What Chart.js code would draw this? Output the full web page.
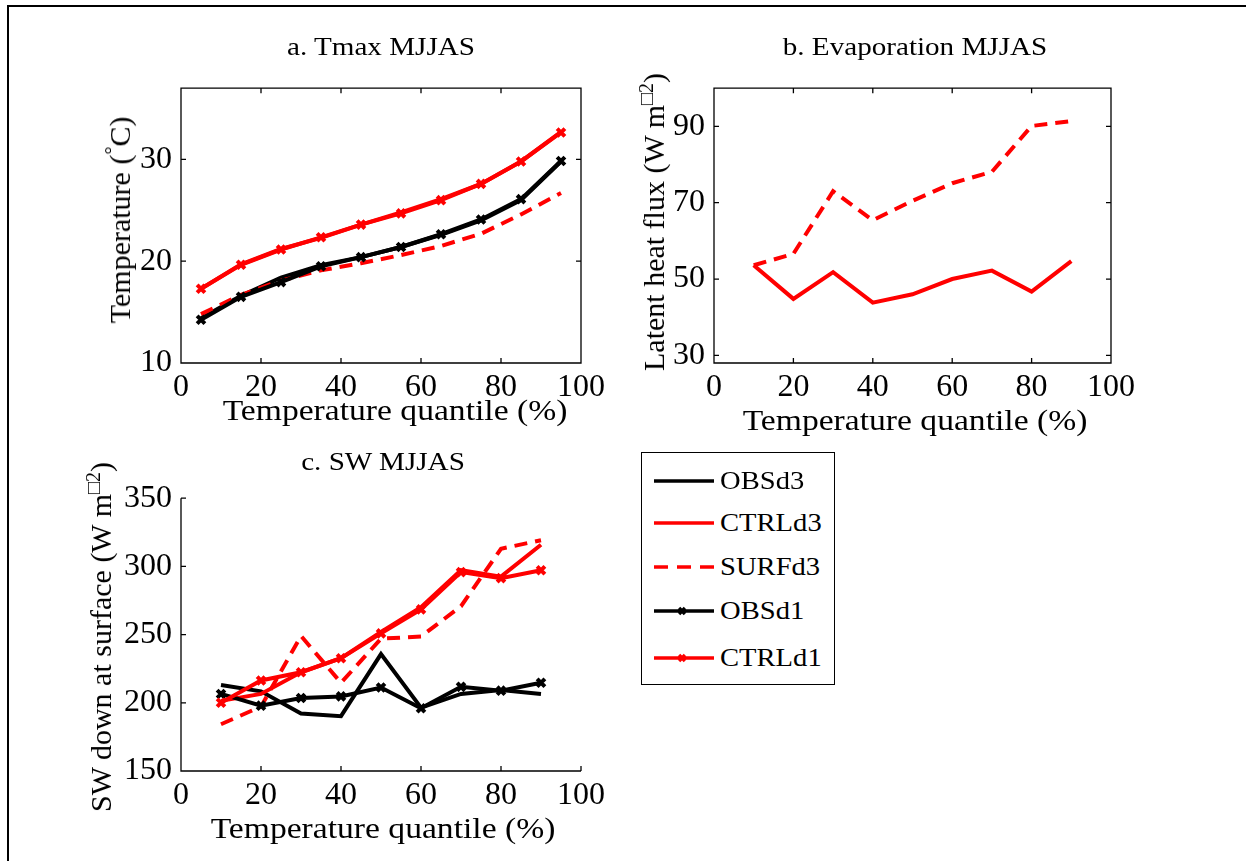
<!DOCTYPE html>
<html>
<head>
<meta charset="utf-8">
<script src="https://cdn.jsdelivr.net/npm/chart.js@4.4.0/dist/chart.umd.min.js"></script>
<style>
  html, body { margin: 0; padding: 0; background: #fff; }
  #fig { position: relative; width: 1246px; height: 861px; overflow: hidden; background: #fff;
         font-family: 'Liberation Serif', 'DejaVu Serif', serif; color: #000; }
  .frame-top { position: absolute; left: 8px; top: 5px; width: 1238px; height: 2px; background: #000; }
  .frame-left { position: absolute; left: 7px; top: 5px; width: 2px; height: 856px; background: #000; }
  canvas { position: absolute; }
  .txt { position: absolute; white-space: nowrap; transform: translate(-50%, -50%) scaleX(1.12); }
  .ttl { font-size: 26px; }
  .xl { font-size: 30px; }
  .yl { position: absolute; white-space: nowrap; font-size: 30px; transform: translate(-50%, -50%) rotate(-90deg); }
  .yl sup { font-size: 20px; }
  #legend { position: absolute; left: 641px; top: 452px; width: 192px; height: 231px; border: 1.5px solid #000; }
  #legend .row { position: absolute; left: 10px; height: 30px; }
  #legend svg { position: absolute; left: 0; top: 0; }
  #legend span { position: absolute; left: 68px; top: 50%; font-size: 26px; transform: translateY(-50%) scaleX(1.1); transform-origin: left center; }
</style>
</head>
<body>
<div id="fig">
  <div class="frame-top"></div>
  <div class="frame-left"></div>

  <canvas id="cA"></canvas>
  <canvas id="cB"></canvas>
  <canvas id="cC"></canvas>

  <div class="txt ttl" style="left:381px; top:47px;">a. Tmax MJJAS</div>
  <div class="txt ttl" style="left:915px; top:47px;">b. Evaporation MJJAS</div>
  <div class="txt ttl" style="left:383px; top:462px;">c. SW MJJAS</div>

  <div class="txt xl" style="left:395px; top:410px;">Temperature quantile (%)</div>
  <div class="txt xl" style="left:915px; top:420px;">Temperature quantile (%)</div>
  <div class="txt xl" style="left:383px; top:828px;">Temperature quantile (%)</div>

  <div class="yl" style="left:119px; top:220px;">Temperature (<sup>°</sup>C)</div>
  <div class="yl" style="left:653px; top:222px;">Latent heat flux (W m<sup>□2</sup>)</div>
  <div class="yl" style="left:100px; top:637px;">SW down at surface (W m<sup>□2</sup>)</div>

  <div id="legend"></div>
</div>

<script>
// --- DADOS ---
const quantA = [5, 15, 25, 35, 45, 55, 65, 75, 85, 95];
const quantBC = [10, 20, 30, 40, 50, 60, 70, 80, 90];

// a. Tmax (graus C)
const tmaxObsD3 = [14.4, 16.6, 18.4, 19.6, 20.4, 21.4, 22.6, 24.0, 26.0, 29.8];
const tmaxCtrlD3 = [17.3, 19.7, 21.2, 22.3, 23.6, 24.8, 26.1, 27.6, 29.8, 32.7];
const tmaxSurfD3 = [14.8, 16.7, 18.1, 19.1, 19.8, 20.6, 21.5, 22.7, 24.6, 26.7];
const tmaxObsD1 = [14.25, 16.5, 17.95, 19.5, 20.4, 21.4, 22.65, 24.1, 26.1, 29.85];
const tmaxCtrlD1 = [17.3, 19.65, 21.15, 22.35, 23.6, 24.7, 26.0, 27.6, 29.8, 32.65];

// b. Evaporacao (W m-2)
const evapCtrlD3 = [53.6, 44.8, 51.8, 43.8, 46.0, 50.0, 52.2, 46.7, 54.7];
const evapSurfD3 = [53.6, 56.6, 73.0, 65.4, 70.5, 75.1, 78.1, 90.1, 91.4];

// c. SW na superficie (W m-2)
const swObsD3 = [213.1, 208.4, 192.1, 190.2, 235.7, 196.5, 206.5, 209.3, 206.5];
const swCtrlD3 = [201.4, 206.5, 222.4, 232.7, 252.0, 270.0, 297.2, 292.5, 315.9];
const swSurfD3 = [184.3, 197.2, 249.0, 214.7, 247.0, 248.6, 270.8, 312.9, 319.2];
const swObsD1 = [206.5, 197.9, 203.5, 204.7, 211.2, 196.0, 211.7, 208.9, 214.7];
const swCtrlD1 = [200.0, 216.4, 222.4, 232.7, 250.9, 268.5, 295.8, 291.4, 297.2];

// ticks
const xTicks = [0, 20, 40, 60, 80, 100];
const yTicksA = [10, 20, 30];
const yTicksB = [30, 50, 70, 90];
const yTicksC = [150, 200, 250, 300, 350];

const legendNames = ['OBSd3', 'CTRLd3', 'SURFd3', 'OBSd1', 'CTRLd1'];

// --- ESTILOS DAS SERIES ---
const RED = '#ff0000', BLACK = '#000000';
const styles = {
    OBSd3:  { color: BLACK, dash: [], marker: false, order: 5 },
    CTRLd3: { color: RED, dash: [], marker: false, order: 4 },
    SURFd3: { color: RED, dash: [13, 8], marker: false, order: 3 },
    OBSd1:  { color: BLACK, dash: [], marker: true, order: 2 },
    CTRLd1: { color: RED, dash: [], marker: true, order: 1 }
};

function series(name, xs, ys) {
    const s = styles[name];
    return {
        label: name,
        data: xs.map((x, i) => ({ x: x, y: ys[i] })),
        borderColor: s.color,
        backgroundColor: s.color,
        borderWidth: 4,
        borderDash: s.dash,
        pointStyle: 'crossRot',
        pointRadius: s.marker ? 5.5 : 0,
        pointBorderWidth: 4,
        pointHoverRadius: 0,
        tension: 0,
        fill: false,
        order: s.order
    };
}

// moldura e ticks internos (estilo matlab)
const axesBox = {
    id: 'axesBox',
    afterDatasetsDraw(chart, args, opts) {
        const { ctx, chartArea: a, scales } = chart;
        const tl = 5;
        ctx.save();
        ctx.strokeStyle = '#000';
        ctx.lineWidth = 1.3;
        ctx.beginPath();
        if (opts.box) {
            ctx.rect(a.left, a.top, a.right - a.left, a.bottom - a.top);
        } else {
            ctx.moveTo(a.left, a.top);
            ctx.lineTo(a.left, a.bottom);
            ctx.lineTo(a.right, a.bottom);
        }
        scales.x.ticks.forEach(t => {
            const px = scales.x.getPixelForValue(t.value);
            ctx.moveTo(px, a.bottom); ctx.lineTo(px, a.bottom - tl);
            if (opts.box) { ctx.moveTo(px, a.top); ctx.lineTo(px, a.top + tl); }
        });
        scales.y.ticks.forEach(t => {
            const py = scales.y.getPixelForValue(t.value);
            ctx.moveTo(a.left, py); ctx.lineTo(a.left + tl, py);
            if (opts.box) { ctx.moveTo(a.right, py); ctx.lineTo(a.right - tl, py); }
        });
        ctx.stroke();
        ctx.restore();
    }
};

Chart.defaults.font.family = "'Liberation Serif', 'DejaVu Serif', serif";
Chart.defaults.color = '#000';

function makePanel(id, pos, area, yRange, yTicks, datasets, box) {
    const cv = document.getElementById(id);
    cv.style.left = pos.left + 'px';
    cv.style.top = pos.top + 'px';
    cv.style.width = pos.w + 'px';
    cv.style.height = pos.h + 'px';
    return new Chart(cv, {
        type: 'line',
        data: { datasets: datasets },
        options: {
            responsive: false,
            animation: false,
            events: [],
            layout: { padding: { left: 0, top: area.top, right: pos.w - area.right, bottom: 0 } },
            plugins: { legend: { display: false }, tooltip: { enabled: false }, axesBox: { box: box } },
            scales: {
                x: {
                    type: 'linear', min: 0, max: 100,
                    grid: { display: false, drawTicks: false },
                    border: { display: false },
                    ticks: { font: { size: 32 }, padding: 5, maxRotation: 0, autoSkip: false },
                    afterBuildTicks: s => { s.ticks = xTicks.map(v => ({ value: v })); },
                    afterFit: s => { s.height = pos.h - area.bottom; }
                },
                y: {
                    type: 'linear', min: yRange[0], max: yRange[1],
                    grid: { display: false, drawTicks: false },
                    border: { display: false },
                    ticks: { font: { size: 32 }, padding: 9, autoSkip: false },
                    afterBuildTicks: s => { s.ticks = yTicks.map(v => ({ value: v })); },
                    afterFit: s => { s.width = area.left; }
                }
            }
        },
        plugins: [axesBox]
    });
}

// painel a
makePanel('cA', { left: 90, top: 60, w: 520, h: 350 },
    { left: 91, top: 19, right: 493, bottom: 303 },
    [10, 37], yTicksA, [
        series('OBSd3', quantA, tmaxObsD3),
        series('CTRLd3', quantA, tmaxCtrlD3),
        series('SURFd3', quantA, tmaxSurfD3),
        series('OBSd1', quantA, tmaxObsD1),
        series('CTRLd1', quantA, tmaxCtrlD1)
    ], true);

// painel b
makePanel('cB', { left: 620, top: 60, w: 520, h: 350 },
    { left: 94, top: 19, right: 495, bottom: 303 },
    [28, 100], yTicksB, [
        series('CTRLd3', quantBC, evapCtrlD3),
        series('SURFd3', quantBC, evapSurfD3)
    ], true);

// painel c
makePanel('cC', { left: 90, top: 470, w: 520, h: 350 },
    { left: 91, top: 16, right: 493, bottom: 301 },
    [150, 350], yTicksC, [
        series('OBSd3', quantBC, swObsD3),
        series('CTRLd3', quantBC, swCtrlD3),
        series('SURFd3', quantBC, swSurfD3),
        series('OBSd1', quantBC, swObsD1),
        series('CTRLd1', quantBC, swCtrlD1)
    ], false);

// --- LEGENDA ---
const legendRowsY = [28, 70, 114, 158, 205];
const legend = document.getElementById('legend');
legendNames.forEach((name, i) => {
    const s = styles[name];
    const row = document.createElement('div');
    row.className = 'row';
    row.style.top = (legendRowsY[i] - 15) + 'px';
    const dash = s.dash.length ? 'stroke-dasharray="14 9"' : '';
    const mark = s.marker
        ? `<path d="M27 12 L33 18 M33 12 L27 18" stroke="${s.color}" stroke-width="3.5"/>`
        : '';
    row.innerHTML = `<svg width="62" height="30"><line x1="2" y1="15" x2="62" y2="15" stroke="${s.color}" stroke-width="3.5" ${dash}/>${mark}</svg><span>${name}</span>`;
    legend.appendChild(row);
});
</script>
</body>
</html>
